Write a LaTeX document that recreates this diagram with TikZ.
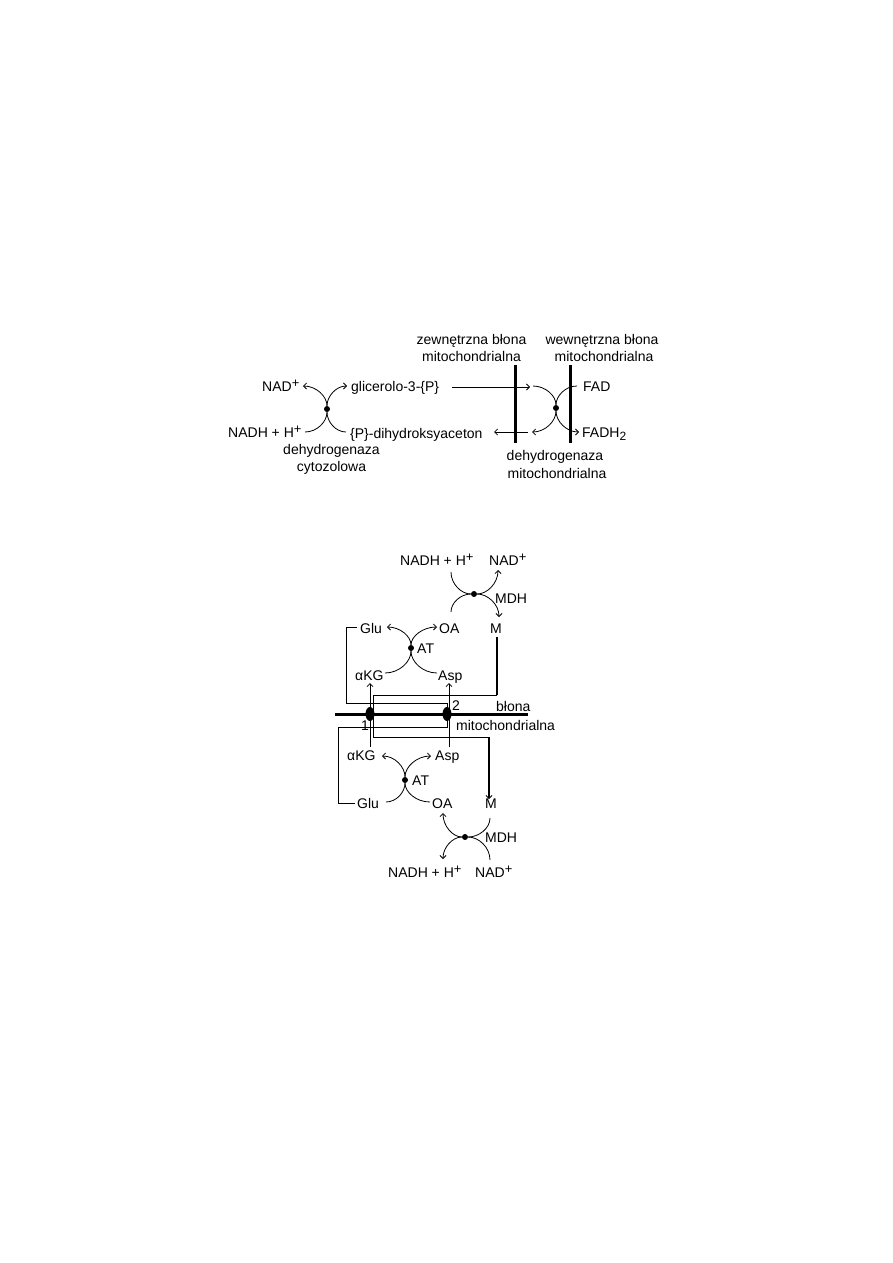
\documentclass[tikz,border=0pt]{standalone}
\usepackage{fontspec}
\setmainfont{Liberation Sans}
\usetikzlibrary{arrows.meta,calc,shapes.geometric}
\newcommand\myplus{\raisebox{0.45ex}{\fontsize{13}{13}\selectfont+}}
\newcommand\mysub{\raisebox{-0.45ex}{\fontsize{12}{12}\selectfont 2}}
\newcommand\vcurve[3][]{\draw[crv,#1] (#2) .. controls ($(#2)!0.55!(#2|-#3)$) and ($(#3)!0.55!(#2|-#3)$) .. (#3);}
\newcommand\hcurve[3][]{\draw[crv,#1] (#2) .. controls ($(#2)!0.55!(#3|-#2)$) and ($(#3)!0.55!(#3|-#2)$) .. (#3);}
\begin{document}
\begin{tikzpicture}[x=1pt,y=-1pt,
  lbl/.style={inner sep=0pt,font=\fontsize{14}{16}\selectfont},
  lw/.style={lbl,anchor=base west},
  lc/.style={lbl,anchor=base},
  dotn/.style={circle,fill=black,inner sep=0pt,minimum size=6pt},
  crv/.style={line width=0.8pt},
  conn/.style={line width=0.8pt},
  arr/.style={-{Straight Barb[length=3pt,width=6pt,line width=0.8pt]}},
  memb/.style={line width=3pt},
  thickc/.style={line width=2pt},
  carrier/.style={ellipse,fill=black,inner sep=0pt,minimum width=9pt,minimum height=14pt}
]
\useasboundingbox (0,0) rectangle (893,1263);

% ---------------- upper scheme: glycerol phosphate shuttle ----------------
\node[lc] (zew1) at (471.5,344) {zewnętrzna błona};
\node[lc] (zew2) at (471.5,361) {mitochondrialna};
\node[lc] (wew1) at (602,344) {wewnętrzna błona};
\node[lc] (wew2) at (604,361) {mitochondrialna};

\node[lw] (nadA) at (262,391) {NAD\myplus};
\node[lw] (nadhA) at (228,437) {NADH + H\myplus};
\node[lw] (g3p) at (351,391) {glicerolo-3-\{P\}};
\node[lw] (dhap) at (350,438) {\{P\}-dihydroksyaceton};
\node[lc] (dcyt1) at (331.5,454) {dehydrogenaza};
\node[lc] (dcyt2) at (331.5,471) {cytozolowa};
\node[lc] (dmit1) at (555,460) {dehydrogenaza};
\node[lc] (dmit2) at (557,478) {mitochondrialna};
\node[lw] (fad) at (583,391) {FAD};
\node[lw] (fadh) at (582,437) {FADH\mysub};

% membranes
\coordinate (omT) at (515,365); \coordinate (omB) at (515,443);
\coordinate (imT) at (570,365); \coordinate (imB) at (570,443);
\draw[memb] (omT) -- (omB);
\draw[memb] (imT) -- (imB);

% cytosolic dehydrogenase
\node[dotn] (dc) at (327,409) {};
\coordinate (dcUL) at (303,386); \coordinate (dcUR) at (347,386);
\coordinate (dcLL) at (305,432); \coordinate (dcLR) at (346,432);
\vcurve[arr]{dc}{dcUL}
\vcurve[arr]{dc}{dcUR}
\vcurve{dc}{dcLL}
\vcurve{dc}{dcLR}

% mitochondrial dehydrogenase
\node[dotn] (dm) at (556,408) {};
\coordinate (dmUL) at (533,386); \coordinate (dmUR) at (577,386);
\coordinate (dmLL) at (532,432); \coordinate (dmLR) at (579,432);
\vcurve{dm}{dmUL}
\vcurve{dm}{dmUR}
\vcurve[arr]{dm}{dmLL}
\vcurve[arr]{dm}{dmLR}

% straight transport arrows
\coordinate (g3pS) at (452,387); \coordinate (g3pE) at (530,387);
\draw[conn,arr] (g3pS) -- (g3pE);
\coordinate (dhS) at (528,432); \coordinate (dhE) at (494,432);
\draw[conn,arr] (dhS) -- (dhE);

% ---------------- lower scheme: malate-aspartate shuttle ----------------
% labels, cytosol
\node[lw] (nadhB) at (400,565) {NADH + H\myplus};
\node[lw] (nadB) at (489,565) {NAD\myplus};
\node[lw] (mdhB) at (495,603) {MDH};
\node[lw] (gluB) at (360,633) {Glu};
\node[lw] (oaB) at (439,633) {OA};
\node[lw] (mB) at (490,633) {M};
\node[lw] (atB) at (417,653) {AT};
\node[lw] (akgB) at (355,680) {αKG};
\node[lw] (aspB) at (438,680) {Asp};
% membrane labels
\node[lw] (n2) at (452,710) {2};
\node[lw] (blona) at (496,711) {błona};
\node[lw] (n1) at (361,730) {1};
\node[lw] (mito) at (456,730) {mitochondrialna};
% labels, matrix
\node[lw] (akgC) at (347,760) {αKG};
\node[lw] (aspC) at (435,760) {Asp};
\node[lw] (atC) at (412,785) {AT};
\node[lw] (gluC) at (357,808) {Glu};
\node[lw] (oaC) at (432,808) {OA};
\node[lw] (mC) at (485,808) {M};
\node[lw] (mdhC) at (485,842) {MDH};
\node[lw] (nadhC) at (388,877) {NADH + H\myplus};
\node[lw] (nadC) at (475,877) {NAD\myplus};

% membrane and carriers
\coordinate (mbL) at (335,714); \coordinate (mbR) at (528,714);
\draw[memb] (mbL) -- (mbR);

% connectors
\coordinate (g1a) at (357,627); \coordinate (g1b) at (346,627);
\coordinate (g1c) at (346,703); \coordinate (g1d) at (447,703);
\coordinate (g1e) at (447,712);
\draw[conn] (g1a) -- (g1b) -- (g1c) -- (g1d) -- (g1e);

\coordinate (g2a) at (355,803); \coordinate (g2b) at (338,803);
\coordinate (g2c) at (338,727); \coordinate (g2d) at (447,727);
\coordinate (g2e) at (447,716);
\draw[conn] (g2a) -- (g2b) -- (g2c) -- (g2d) -- (g2e);

\coordinate (akgLo) at (370,747); \coordinate (akgHi) at (370,683);
\draw[conn,arr] (akgLo) -- (akgHi);
\coordinate (aspLo) at (449,747); \coordinate (aspHi) at (449,683);
\draw[conn,arr] (aspLo) -- (aspHi);

\coordinate (m1) at (497,637); \coordinate (m2) at (497,695);
\coordinate (m3) at (373,695); \coordinate (m4) at (373,737);
\coordinate (m5) at (489,737); \coordinate (m6) at (489,799);
\draw[thickc] (m1) -- (m2);
\draw[conn] (m2) -- (m3) -- (m4) -- (m5);
\draw[thickc,-{Straight Barb[length=3pt,width=6pt,line width=0.8pt]}] (m5) -- (m6);

\node[carrier] (t1) at (370,714) {};
\node[carrier] (t2) at (447,714) {};

% MDH (cytosol)
\node[dotn] (mdh1) at (474,594) {};
\coordinate (mdh1UL) at (451,572); \coordinate (mdh1UR) at (498,570);
\coordinate (mdh1LL) at (451,612); \coordinate (mdh1LR) at (499,617);
\hcurve{mdh1}{mdh1UL}
\hcurve[arr]{mdh1}{mdh1UR}
\hcurve{mdh1}{mdh1LL}
\hcurve[arr]{mdh1}{mdh1LR}

% AT (cytosol)
\node[dotn] (at1) at (411,648) {};
\coordinate (at1UL) at (387,627); \coordinate (at1UR) at (437,627);
\coordinate (at1LL) at (385,673); \coordinate (at1LR) at (437,673);
\vcurve[arr]{at1}{at1UL}
\vcurve[arr]{at1}{at1UR}
\vcurve{at1}{at1LL}
\vcurve{at1}{at1LR}

% AT (matrix)
\node[dotn] (at2) at (405,780) {};
\coordinate (at2UL) at (382,756); \coordinate (at2UR) at (431,756);
\coordinate (at2LL) at (386,802); \coordinate (at2LR) at (430,802);
\vcurve[arr]{at2}{at2UL}
\vcurve[arr]{at2}{at2UR}
\vcurve{at2}{at2LL}
\vcurve{at2}{at2LR}

% MDH (matrix)
\node[dotn] (mdh2) at (465,837) {};
\coordinate (mdh2UL) at (443,813); \coordinate (mdh2UR) at (490,818);
\coordinate (mdh2LL) at (443,859); \coordinate (mdh2LR) at (490,860);
\hcurve[arr]{mdh2}{mdh2UL}
\hcurve{mdh2}{mdh2UR}
\hcurve[arr]{mdh2}{mdh2LL}
\hcurve{mdh2}{mdh2LR}
\end{tikzpicture}
\end{document}
